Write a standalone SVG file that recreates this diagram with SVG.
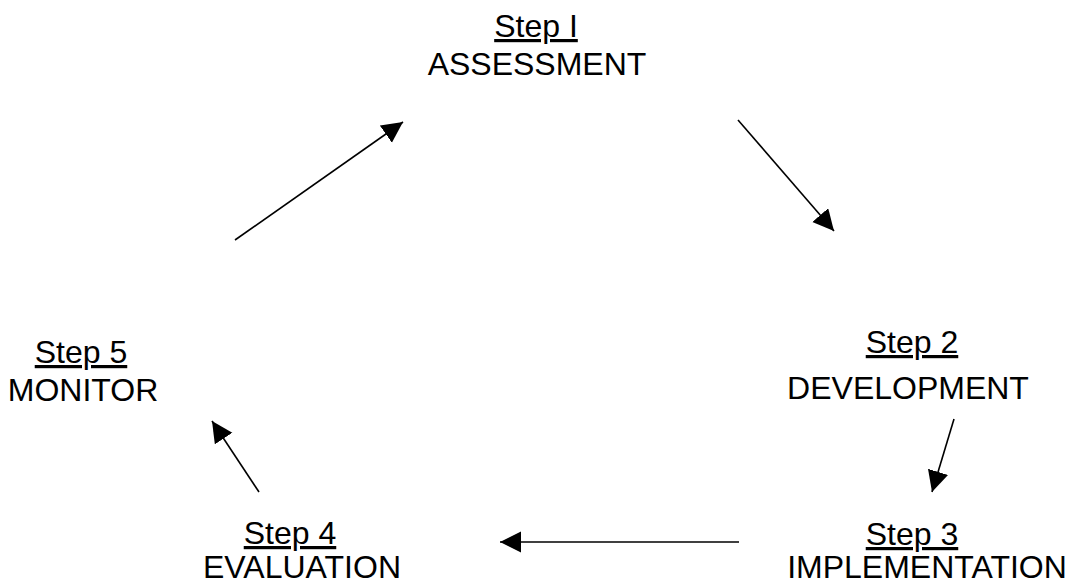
<svg xmlns="http://www.w3.org/2000/svg" width="1070" height="585" viewBox="0 0 1070 585">
<style>
text{font-family:"Liberation Sans",Arial,sans-serif;font-size:32px;fill:#000;text-anchor:middle}
.u{text-decoration:underline}
.c{stroke:#000;stroke-width:1.6;fill:none;marker-end:url(#ah)}
</style>
<defs>
<marker id="ah" markerUnits="userSpaceOnUse" markerWidth="23" markerHeight="23" refX="21" refY="10.5" orient="auto">
<path d="M0,0 L21,10.5 L0,21 z" fill="#000"/>
</marker>
</defs>
<rect width="1070" height="585" fill="#fff"/>
<g id="step1"><text class="u" x="536" y="37">Step I</text><text x="537" y="75">ASSESSMENT</text></g>
<g id="step2"><text class="u" x="912" y="353">Step 2</text><text x="908" y="399">DEVELOPMENT</text></g>
<g id="step3"><text class="u" x="912" y="545">Step 3</text><text x="927" y="578">IMPLEMENTATION</text></g>
<g id="step4"><text class="u" x="290" y="544">Step 4</text><text x="302" y="578">EVALUATION</text></g>
<g id="step5"><text class="u" x="81" y="363">Step 5</text><text x="83" y="401">MONITOR</text></g>
<g id="connectors">
<line class="c" x1="235" y1="240" x2="403" y2="122"/>
<line class="c" x1="738" y1="120" x2="834" y2="231"/>
<line class="c" x1="954" y1="419" x2="932" y2="492"/>
<line class="c" x1="739" y1="542" x2="500" y2="542"/>
<line class="c" x1="259" y1="492" x2="212" y2="421"/>
</g>
</svg>
